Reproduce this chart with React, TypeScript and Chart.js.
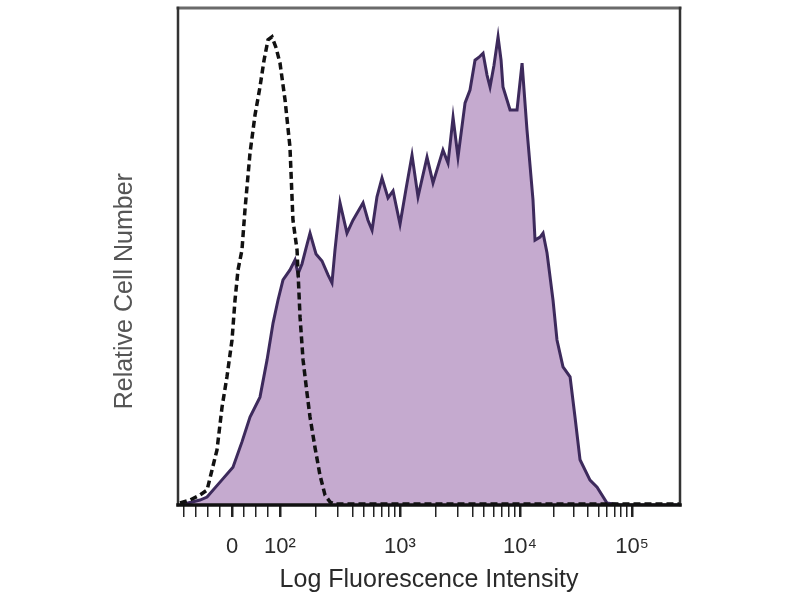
import React, { useEffect, useRef } from "react";
import { Chart, registerables } from "chart.js";

Chart.register(...registerables);

// Axis is in "decade" display units: 2 = 10^2, 3 = 10^3, ...
const controlX = [1.167, 1.25, 1.333, 1.392, 1.433, 1.475, 1.517, 1.558, 1.6, 1.625, 1.65, 1.683, 1.708, 1.75, 1.792, 1.833, 1.867, 1.9, 1.933, 1.967, 2.0, 2.042, 2.083, 2.108, 2.142, 2.167, 2.192, 2.225, 2.25, 2.292, 2.333, 2.375, 2.417, 2.458, 3.0, 4.0, 5.333];
const controlY = [0.4, 1.0, 2.0, 3.0, 7.0, 11.1, 19.7, 25.8, 33.2, 41.2, 47.3, 51.3, 59.4, 70.8, 78.5, 84.1, 89.5, 93.6, 94.2, 92.0, 88.9, 81.5, 72.0, 57.3, 51.3, 37.8, 29.2, 22.5, 17.7, 11.5, 6.0, 2.0, 0.6, 0.2, 0.2, 0.2, 0.2];

const stainedX = [1.167, 1.333, 1.392, 1.5, 1.608, 1.683, 1.75, 1.833, 1.892, 1.942, 1.983, 2.025, 2.083, 2.125, 2.15, 2.183, 2.217, 2.25, 2.3, 2.35, 2.4, 2.433, 2.458, 2.5, 2.558, 2.608, 2.692, 2.733, 2.767, 2.808, 2.85, 2.9, 2.942, 3.0, 3.05, 3.1, 3.15, 3.225, 3.275, 3.358, 3.4, 3.442, 3.483, 3.542, 3.583, 3.625, 3.658, 3.692, 3.725, 3.75, 3.783, 3.817, 3.842, 3.858, 3.917, 3.975, 4.017, 4.058, 4.108, 4.125, 4.167, 4.192, 4.225, 4.275, 4.308, 4.358, 4.417, 4.458, 4.5, 4.583, 4.642, 4.725, 4.833, 5.333];
const stainedY = [0, 1.0, 1.6, 4.6, 7.6, 12.7, 17.7, 21.7, 29.2, 36.6, 41.2, 45.3, 47.3, 49.3, 46.5, 48.5, 51.7, 54.7, 50.5, 49.1, 46.3, 44.7, 51.3, 60.8, 54.7, 57.3, 60.8, 57.3, 55.3, 62.0, 65.8, 61.8, 63.2, 56.5, 63.6, 70.4, 62.0, 70.0, 64.8, 71.4, 68.8, 78.0, 70.0, 80.9, 83.5, 89.5, 90.1, 90.9, 86.5, 84.1, 88.5, 94.2, 89.5, 84.1, 79.5, 79.5, 88.9, 75.5, 61.4, 53.3, 53.9, 54.7, 50.7, 41.2, 33.2, 27.8, 25.8, 17.7, 9.1, 5.0, 3.6, 0.4, 0, 0];

const majorTickValues = [1.6, 2, 3, 4, 4.933];
const majorTickLabels = ["0", "10²", "10³", "10⁴", "10⁵"];
const minorTickValues = [1.2, 1.3, 1.4, 1.5, 1.7, 1.8, 1.9,
  2.301, 2.477, 2.602, 2.699, 2.778, 2.845, 2.903, 2.954,
  3.301, 3.477, 3.602, 3.699, 3.778, 3.845, 3.903, 3.954,
  4.281, 4.445, 4.562, 4.652, 4.726, 4.789, 4.843, 4.890];

const X_MIN = 1.15;
const X_MAX = 5.333;

const framePlugin = {
  id: "frame",
  afterDatasetsDraw(chart: any) {
    const { ctx, chartArea: a } = chart;
    ctx.save();
    ctx.lineCap = "square";
    ctx.strokeStyle = "#6a6a6a";
    ctx.lineWidth = 3;
    ctx.beginPath();
    ctx.moveTo(a.left, a.top);
    ctx.lineTo(a.right, a.top);
    ctx.stroke();
    ctx.strokeStyle = "#333";
    ctx.lineWidth = 2.5;
    ctx.beginPath();
    ctx.moveTo(a.left, a.top);
    ctx.lineTo(a.left, a.bottom);
    ctx.moveTo(a.right, a.top);
    ctx.lineTo(a.right, a.bottom);
    ctx.stroke();
    ctx.strokeStyle = "#111";
    ctx.lineWidth = 3.5;
    ctx.beginPath();
    ctx.moveTo(a.left, a.bottom);
    ctx.lineTo(a.right, a.bottom);
    ctx.stroke();
    ctx.restore();
  },
};

export default function App() {
  const ref = useRef<HTMLCanvasElement>(null);
  useEffect(() => {
    document.body.style.margin = "0";
    const control = controlX.map((x, i) => ({ x, y: controlY[i] }));
    const stained = stainedX.map((x, i) => ({ x, y: stainedY[i] }));
    const allTicks = [...majorTickValues, ...minorTickValues].sort((a, b) => a - b);
    const chart = new Chart(ref.current!, {
      type: "line",
      data: {
        datasets: [
          {
            label: "Isotype control",
            data: control,
            borderColor: "#111",
            borderWidth: 3.5,
            borderDash: [7, 4],
            pointRadius: 0,
            fill: false,
            tension: 0,
          },
          {
            label: "Stained",
            data: stained,
            borderColor: "#3d2a5c",
            borderWidth: 3,
            backgroundColor: "#c5aacf",
            pointRadius: 0,
            fill: "origin",
            tension: 0,
          },
        ],
      },
      options: {
        animation: false,
        responsive: false,
        maintainAspectRatio: false,
        layout: { padding: { top: 8, right: 120, left: 0, bottom: 0 } },
        plugins: { legend: { display: false }, tooltip: { enabled: false } },
        scales: {
          x: {
            type: "linear",
            min: X_MIN,
            max: X_MAX,
            afterBuildTicks: (s: any) => {
              s.ticks = allTicks.map((v) => ({ value: v }));
            },
            afterFit: (s: any) => {
              s.height = 95;
            },
            border: { display: false },
            grid: {
              drawOnChartArea: false,
              drawTicks: true,
              tickLength: 12,
              color: "#222",
              lineWidth: (c: any) => (majorTickValues.includes(c.tick?.value) ? 2.5 : 1.5),
            },
            ticks: {
              autoSkip: false,
              maxRotation: 0,
              padding: 17,
              color: "#2a2a2a",
              font: { family: "Liberation Sans", size: 22 },
              callback: (v: any) => {
                const i = majorTickValues.indexOf(Number(v));
                return i >= 0 ? majorTickLabels[i] : "";
              },
            },
            title: {
              display: true,
              text: "Log Fluorescence Intensity",
              color: "#2a2a2a",
              font: { family: "Liberation Sans", size: 25 },
              padding: { top: 0, bottom: 5 },
            },
          },
          y: {
            type: "linear",
            min: 0,
            max: 100,
            afterFit: (s: any) => {
              s.width = 178;
            },
            border: { display: false },
            grid: { display: false },
            ticks: { display: false },
            title: {
              display: true,
              text: "Relative Cell Number          ",
              color: "#555",
              font: { family: "Liberation Sans", size: 25 },
              padding: { top: 110, bottom: 0 },
            },
          },
        },
      },
      plugins: [framePlugin],
    });
    return () => chart.destroy();
  }, []);
  return (
    <div style={{ position: "absolute", left: 0, top: 0, width: 800, height: 600, background: "#fff" }}>
      <canvas ref={ref} width={800} height={600} style={{ width: 800, height: 600, display: "block" }} />
    </div>
  );
}
